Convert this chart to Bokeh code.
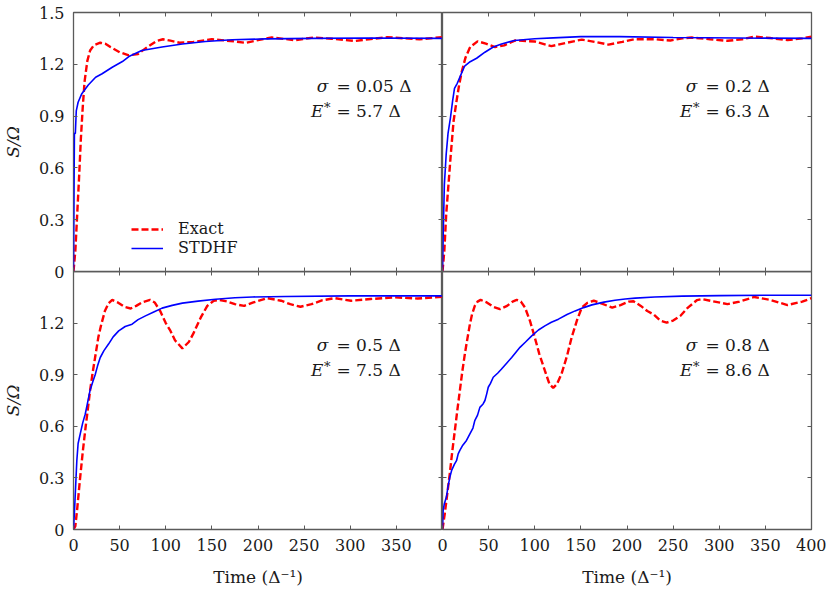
from bokeh.plotting import figure
from bokeh.layouts import column, row
from bokeh.models import FixedTicker, LinearAxis, Legend, LegendItem, Range1d
from bokeh.core.properties import value
from bokeh.embed import file_html
from bokeh.resources import INLINE

# ---------------- data ----------------
# Panel 1: sigma = 0.05
exact_t1 = [0, 2, 4, 6, 8, 10, 12, 15, 18, 22, 29, 35, 40, 50, 60, 70, 80, 90, 97, 105, 115, 130,
            150, 170, 187, 200, 215, 240, 260, 280, 305, 320, 340, 360, 375, 400]
exact_s1 = [0, 0.12, 0.33, 0.54, 0.77, 0.95, 1.10, 1.22, 1.28, 1.31, 1.325, 1.318, 1.30, 1.27, 1.252,
            1.26, 1.30, 1.335, 1.345, 1.337, 1.325, 1.33, 1.345, 1.335, 1.324, 1.34, 1.355, 1.34,
            1.355, 1.348, 1.335, 1.345, 1.357, 1.35, 1.345, 1.357]
stdhf_t1 = [0, 0.5, 1, 2, 3, 5, 9, 16, 24, 31, 42, 53, 60, 74, 96, 118, 143, 172, 208, 260, 320, 400]
stdhf_s1 = [0, 0.40, 0.80, 0.80, 0.93, 0.98, 1.03, 1.08, 1.125, 1.145, 1.183, 1.216, 1.245, 1.28,
            1.30, 1.318, 1.332, 1.342, 1.347, 1.35, 1.352, 1.35]

# Panel 2: sigma = 0.2
exact_t2 = [0, 2, 4, 6, 9, 12, 15, 18, 21, 25, 30, 38, 47, 57, 67, 79, 100, 118, 135, 151, 165, 180,
            195, 208, 230, 247, 260, 270, 290, 309, 325, 338, 355, 374, 390, 400]
exact_s2 = [0, 0.12, 0.33, 0.47, 0.68, 0.87, 0.98, 1.08, 1.16, 1.24, 1.30, 1.333, 1.32, 1.30, 1.31,
            1.338, 1.332, 1.305, 1.325, 1.343, 1.33, 1.314, 1.33, 1.345, 1.345, 1.338, 1.35, 1.355,
            1.345, 1.336, 1.345, 1.36, 1.352, 1.34, 1.35, 1.36]
stdhf_t2 = [0, 0.7, 2, 4, 6, 8.6, 11, 13, 16, 20, 24, 30, 37, 46, 55, 64, 78, 100, 120, 150, 192,
            250, 320, 400]
stdhf_s2 = [0, 0.20, 0.50, 0.68, 0.80, 0.89, 0.99, 1.06, 1.09, 1.14, 1.19, 1.215, 1.235, 1.27, 1.30,
            1.318, 1.338, 1.348, 1.353, 1.36, 1.36, 1.355, 1.352, 1.35]

# Panel 3: sigma = 0.5
exact_t3 = [0, 2, 4, 7, 10, 13, 16, 18, 21, 24, 27, 30, 34, 38, 42, 48, 55, 62, 68, 75, 83, 88, 94,
            100, 105, 110, 118, 125, 130, 138, 145, 152, 158, 167, 175, 185, 195, 210, 225, 235,
            246, 258, 270, 283, 301, 322, 348, 373, 400]
exact_s3 = [0, 0.02, 0.12, 0.29, 0.45, 0.59, 0.72, 0.81, 0.92, 1.02, 1.12, 1.19, 1.27, 1.315, 1.335,
            1.32, 1.295, 1.285, 1.30, 1.322, 1.335, 1.32, 1.27, 1.20, 1.156, 1.10, 1.053, 1.09,
            1.14, 1.233, 1.30, 1.33, 1.335, 1.325, 1.31, 1.30, 1.32, 1.345, 1.33, 1.31, 1.295,
            1.31, 1.333, 1.345, 1.33, 1.34, 1.35, 1.343, 1.353]
stdhf_t3 = [0, 1, 1.8, 3.6, 5, 7.3, 10, 12.7, 15, 18, 21, 23.5, 26, 29, 33, 38, 43, 49, 56, 63.5,
            70, 78, 87, 96, 107, 118, 135, 154, 175, 194, 230, 300, 400]
stdhf_s3 = [0, 0.10, 0.19, 0.40, 0.50, 0.556, 0.62, 0.67, 0.73, 0.81, 0.86, 0.90, 0.95, 1.0, 1.04,
            1.078, 1.12, 1.155, 1.18, 1.194, 1.22, 1.242, 1.265, 1.287, 1.303, 1.316, 1.328,
            1.339, 1.347, 1.352, 1.355, 1.358, 1.358]

# Panel 4: sigma = 0.8
exact_t4 = [0, 2.5, 5, 7.9, 10.5, 13.4, 16, 18.8, 21.5, 24.2, 27, 29.7, 32, 35, 38, 41.3, 48, 55,
            62.3, 70, 76, 80.4, 85, 89.5, 95, 100, 105, 111, 116, 120, 124, 129, 135, 140, 146,
            151, 157, 164, 172, 184, 193, 202, 207, 215, 222, 229, 236, 243, 250, 258, 266, 276,
            281, 295, 309, 322, 338, 355, 374, 390, 400]
exact_s4 = [0, 0.093, 0.20, 0.325, 0.45, 0.576, 0.69, 0.807, 0.92, 1.02, 1.11, 1.194, 1.25, 1.30,
            1.325, 1.335, 1.32, 1.295, 1.281, 1.30, 1.325, 1.335, 1.325, 1.29, 1.21, 1.117, 1.02,
            0.923, 0.845, 0.823, 0.845, 0.904, 1.01, 1.117, 1.22, 1.29, 1.318, 1.33, 1.315, 1.29,
            1.305, 1.325, 1.327, 1.30, 1.27, 1.25, 1.215, 1.203, 1.215, 1.243, 1.29, 1.334, 1.34,
            1.325, 1.31, 1.325, 1.352, 1.335, 1.305, 1.325, 1.345]
stdhf_t4 = [0, 0.7, 2, 4.3, 6, 8, 10, 11.5, 13, 15.2, 17, 18.8, 22, 26, 29.7, 33, 35, 38, 40.5, 44,
            46, 48, 49.6, 52, 55, 60, 64, 70, 75, 84, 90, 96.7, 104, 111, 118, 125.7, 135, 143.8,
            153, 162, 175, 187, 198, 209, 230, 260, 300, 350, 400]
stdhf_s4 = [0, 0.11, 0.15, 0.19, 0.25, 0.305, 0.345, 0.363, 0.38, 0.40, 0.44, 0.46, 0.49, 0.518,
            0.556, 0.59, 0.633, 0.665, 0.71, 0.73, 0.75, 0.79, 0.827, 0.85, 0.885, 0.91, 0.933,
            0.97, 1.0, 1.059, 1.09, 1.126, 1.16, 1.184, 1.205, 1.223, 1.25, 1.271, 1.29, 1.306,
            1.322, 1.333, 1.34, 1.345, 1.352, 1.357, 1.36, 1.362, 1.362]

sigma_values = ["0.05", "0.2", "0.5", "0.8"]
estar_values = ["5.7", "6.3", "7.5", "8.6"]
series_names = ["Exact", "STDHF"]

x_ticks = [0, 50, 100, 150, 200, 250, 300, 350, 400]
x_tick_labels = ["0", "50", "100", "150", "200", "250", "300", "350", "400"]
y_ticks = [0, 0.3, 0.6, 0.9, 1.2, 1.5]
y_tick_labels = ["0", "0.3", "0.6", "0.9", "1.2", "1.5"]

# ---------------- style ----------------
FONT = "DejaVu Serif"
RED = "#ff0000"
BLUE = "#0000ff"
FRAME = "#5a5a5a"
TXT = "#1a1a1a"
TICK_FS = "16px"


def style_axis(ax, ticks, labels):
    ax.ticker = FixedTicker(ticks=ticks)
    ax.major_tick_in = 4
    ax.major_tick_out = 0
    ax.minor_tick_in = 0
    ax.minor_tick_out = 0
    ax.major_tick_line_color = FRAME
    ax.axis_line_color = None
    if labels is not None:
        ax.major_label_overrides = {t: l for t, l in zip(ticks, labels)}
        ax.major_label_text_font = FONT
        ax.major_label_text_font_size = TICK_FS
        ax.major_label_text_color = TXT
        ax.major_label_standoff = 9
    else:
        ax.major_label_text_font_size = "0px"
        ax.major_label_text_alpha = 0
        ax.major_label_standoff = 0


def make_panel(idx, t_ex, s_ex, t_st, s_st, xlabels, ylabels, width, height,
               borders, margin=None, legend=False):
    left, right, top, bottom = borders
    p = figure(width=width, height=height, x_range=Range1d(0, 400), y_range=Range1d(0, 1.5),
               output_backend="svg", toolbar_location=None,
               min_border_left=left, min_border_right=right,
               min_border_top=top, min_border_bottom=bottom, margin=margin)
    p.grid.visible = False
    p.outline_line_color = FRAME
    p.outline_line_width = 1.3
    p.border_fill_color = None
    p.background_fill_color = None

    xa = p.xaxis[0]
    ya = p.yaxis[0]
    style_axis(xa, x_ticks, xlabels)
    style_axis(ya, y_ticks, ylabels)
    top_ax = LinearAxis()
    right_ax = LinearAxis()
    p.add_layout(top_ax, "above")
    p.add_layout(right_ax, "right")
    style_axis(top_ax, x_ticks, None)
    style_axis(right_ax, y_ticks, None)

    if xlabels is not None:
        xa.axis_label = "Time (Δ⁻¹)"
        xa.axis_label_text_font = FONT
        xa.axis_label_text_font_size = "17px"
        xa.axis_label_text_font_style = "normal"
        xa.axis_label_text_color = TXT
        xa.axis_label_standoff = 13
    if ylabels is not None:
        ya.axis_label = "S/Ω"
        ya.axis_label_text_font = FONT
        ya.axis_label_text_font_size = "17px"
        ya.axis_label_text_font_style = "italic"
        ya.axis_label_text_color = TXT
        ya.axis_label_standoff = 13

    r_ex = p.line(t_ex, s_ex, line_color=RED, line_width=2.4, line_dash="7 3")
    r_st = p.line(t_st, s_st, line_color=BLUE, line_width=1.6)

    # annotation, aligned on the "=" sign
    ax_, y1, y2 = 285, 1.075, 0.93
    common = dict(text_font=value(FONT), text_font_size="17px", text_color=TXT,
                  text_baseline="middle")
    p.text(x=[ax_], y=[y1], text=["σ"], text_align="right", x_offset=-8,
           text_font_style="italic", **common)
    p.text(x=[ax_], y=[y1], text=["= " + sigma_values[idx] + " Δ"], text_align="left", **common)
    p.text(x=[ax_], y=[y2], text=["E"], text_align="right", x_offset=-13,
           text_font_style="italic", **common)
    p.text(x=[ax_], y=[y2], text=["*"], text_align="right", x_offset=-6, y_offset=-3,
           text_font=value(FONT), text_font_size="13px", text_color=TXT, text_baseline="middle")
    p.text(x=[ax_], y=[y2], text=["= " + estar_values[idx] + " Δ"], text_align="left", **common)

    if legend:
        lg = Legend(items=[LegendItem(label=series_names[0], renderers=[r_ex]),
                           LegendItem(label=series_names[1], renderers=[r_st])],
                    location=(58, 14), padding=0, margin=0, spacing=0,
                    label_height=18, glyph_height=18, glyph_width=32, label_standoff=15,
                    border_line_color=None, background_fill_alpha=0,
                    label_text_font=FONT, label_text_font_size="16px",
                    label_text_color=TXT)
        p.add_layout(lg)
    return p


bl_x_labels = x_tick_labels[:-1] + [""]
bl_y_labels = y_tick_labels[:-1] + [""]

p1 = make_panel(0, exact_t1, exact_s1, stdhf_t1, stdhf_s1, None, y_tick_labels,
                442, 281, (73, 0, 12, 10), legend=True)
p2 = make_panel(1, exact_t2, exact_s2, stdhf_t2, stdhf_s2, None, None,
                394, 281, (10, 15, 12, 10), margin=(0, 0, 0, -10))
p3 = make_panel(2, exact_t3, exact_s3, stdhf_t3, stdhf_s3, bl_x_labels, bl_y_labels,
                442, 321, (73, 0, 0, 63))
p4 = make_panel(3, exact_t4, exact_s4, stdhf_t4, stdhf_s4, x_tick_labels, None,
                394, 321, (10, 15, 0, 63), margin=(0, 0, 0, -10))

layout = column(row(p1, p2), row(p3, p4, margin=(-10, 0, 0, 0)))

open("out.html", "w").write(file_html(layout, INLINE))
